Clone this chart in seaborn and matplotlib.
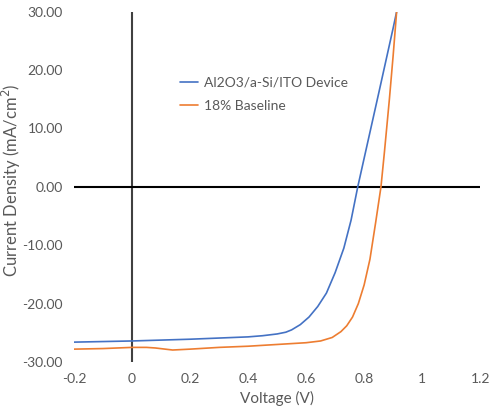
import seaborn as sns
import matplotlib.pyplot as plt
import pandas as pd

# J-V curves
device_v = [-0.2, 0.0, 0.2, 0.4, 0.45, 0.5, 0.53, 0.55, 0.58, 0.61, 0.64, 0.67, 0.7, 0.73, 0.755, 0.778,
            0.8, 0.85, 0.9, 0.912]
device_j = [-26.6, -26.4, -26.1, -25.7, -25.5, -25.2, -24.9, -24.5, -23.6, -22.3, -20.5, -18.2, -14.7, -10.5,
            -5.7, 0.0, 4.9, 16.0, 27.2, 30.0]

baseline_v = [-0.2, -0.1, 0.0, 0.05, 0.08, 0.14, 0.2, 0.3, 0.4, 0.5, 0.6, 0.65, 0.69, 0.72, 0.74,
              0.76, 0.78, 0.8, 0.82, 0.84, 0.858, 0.87, 0.887, 0.9, 0.912]
baseline_j = [-27.8, -27.7, -27.5, -27.5, -27.6, -27.95, -27.8, -27.5, -27.3, -27.0, -26.7, -26.4, -25.8,
              -24.8, -23.8, -22.3, -20.0, -16.8, -12.4, -6.0, 0.0, 6.0, 15.0, 22.5, 30.0]

series = ['Al2O3/a-Si/ITO Device', '18% Baseline']
colors = ['#4472C4', '#ED7D31']
x_ticks = [-0.2, 0, 0.2, 0.4, 0.6, 0.8, 1, 1.2]
x_labels = ['-0.2', '0', '0.2', '0.4', '0.6', '0.8', '1', '1.2']
y_ticks = [-30, -20, -10, 0, 10, 20, 30]

df = pd.concat([
    pd.DataFrame({'V': device_v, 'J': device_j, 'curve': series[0]}),
    pd.DataFrame({'V': baseline_v, 'J': baseline_j, 'curve': series[1]}),
])

sns.set_style('white')
plt.rcParams['font.family'] = ['Lato', 'DejaVu Sans']

fig = plt.figure(figsize=(4.9, 4.12), dpi=100)
ax = fig.add_axes([0.151, 0.1214, 0.829, 0.8502])

sns.lineplot(data=df, x='V', y='J', hue='curve', palette=colors, sort=False,
             linewidth=1.2, ax=ax, estimator=None)

# Excel style axes crossing at zero
ax.plot([0, 0], [-30, 30], color='#404040', linewidth=1.5, zorder=1)
ax.plot([-0.2, 1.2], [0, 0], color='#000000', linewidth=1.5, zorder=1)

ax.set_xlim(-0.2, 1.2)
ax.set_ylim(-30, 30)
ax.set_xticks(x_ticks)
ax.set_xticklabels(x_labels)
ax.set_yticks(y_ticks)
ax.set_yticklabels([f'{t:.2f}' for t in y_ticks])
ax.tick_params(length=0, labelsize=10, labelcolor='#595959', pad=8)
for s in ax.spines.values():
    s.set_visible(False)

ax.set_xlabel('Voltage (V)', fontsize=11, color='#595959', labelpad=4)
ax.set_ylabel('Current Density (mA/cm$^2$)', fontsize=12, color='#595959')
ax.yaxis.set_label_coords(-0.125, 0.52)

leg = ax.legend(loc='upper left', bbox_to_anchor=(0.23, 0.85), frameon=False,
                fontsize=10, handlelength=1.3, handletextpad=0.4, labelspacing=0.8)
for t in leg.get_texts():
    t.set_color('#595959')

fig.savefig('out.png', dpi=100)
